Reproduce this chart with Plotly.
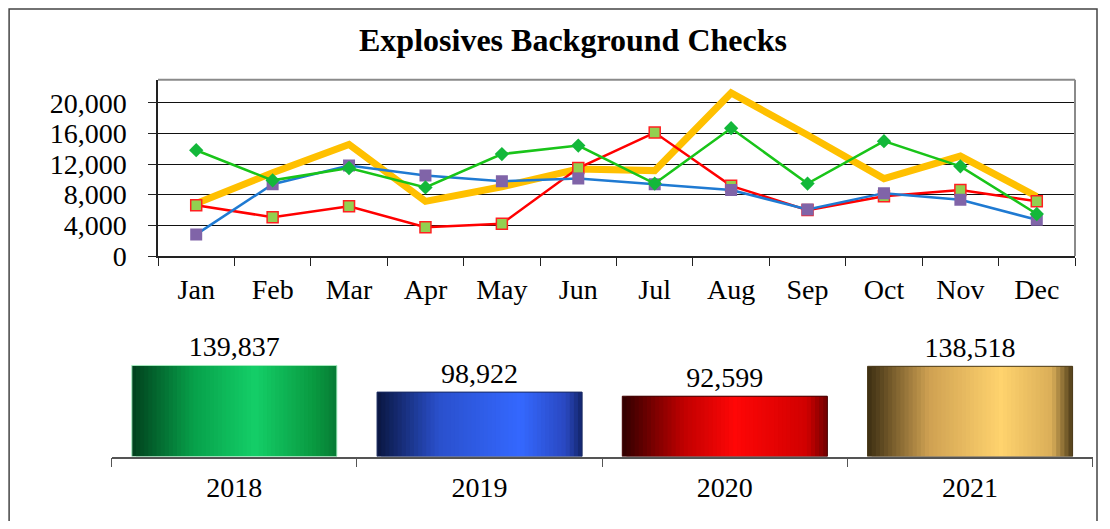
import plotly.graph_objects as go

months = ["Jan", "Feb", "Mar", "Apr", "May", "Jun", "Jul", "Aug", "Sep", "Oct", "Nov", "Dec"]
checks_2018 = [13800, 9870, 11480, 8950, 13300, 14400, 9450, 16670, 9450, 14980, 11700, 5480]
checks_2019 = [2820, 9370, 11800, 10500, 9750, 10100, 9370, 8600, 6080, 8200, 7340, 4720]
checks_2020 = [6620, 5060, 6500, 3760, 4220, 11480, 16100, 9150, 5990, 7800, 8600, 7130]
checks_2021 = [6840, 10850, 14560, 7130, 9030, 11350, 11140, 21270, 15780, 10090, 13040, 7760]

years = ["2018", "2019", "2020", "2021"]
year_totals = [139837, 98922, 92599, 138518]

FONT = "Liberation Serif"
OFF = 8  # page body margin, the figure sits 8px in from the window corner
W, H = 1110 - OFF, 529 - 2 * OFF


def px(x):
    return (x - OFF) / W


def py(y):
    return 1 - (y - OFF) / H


fig = go.Figure()

# monthly lines (yellow at the back, green on top)
fig.add_trace(go.Scatter(x=months, y=checks_2021, mode="lines", name="2021",
                         line=dict(color="#ffc000", width=7)))
fig.add_trace(go.Scatter(x=months, y=checks_2020, mode="lines+markers", name="2020",
                         line=dict(color="#ff0000", width=2.5),
                         marker=dict(symbol="square", size=11, color="#92d050",
                                     line=dict(color="#ff2020", width=1.5))))
fig.add_trace(go.Scatter(x=months, y=checks_2019, mode="lines+markers", name="2019",
                         line=dict(color="#1f7ad2", width=2.5),
                         marker=dict(symbol="square", size=12, color="#8064a8")))
fig.add_trace(go.Scatter(x=months, y=checks_2018, mode="lines+markers", name="2018",
                         line=dict(color="#19c419", width=2.5),
                         marker=dict(symbol="diamond", size=11, color="#13b83a")))


# yearly totals: bars built from thin strips to fake the horizontal shading
def hex_rgb(h):
    h = h.lstrip("#")
    return [int(h[i:i + 2], 16) for i in (0, 2, 4)]


def shade(stops, t):
    for (t0, c0), (t1, c1) in zip(stops, stops[1:]):
        if t0 <= t <= t1:
            f = (t - t0) / (t1 - t0) if t1 > t0 else 0
            a, b = hex_rgb(c0), hex_rgb(c1)
            return "rgb(%d,%d,%d)" % tuple(round(a[i] + (b[i] - a[i]) * f) for i in range(3))
    return stops[-1][1]


bar_shades = [
    [(0, "#01401c"), (0.3, "#07a04a"), (0.6, "#14cf68"), (0.9, "#09973f"), (1, "#067a34")],
    [(0, "#0a1640"), (0.3, "#2a50cc"), (0.7, "#3468ff"), (0.92, "#2a48c0"), (1, "#12246a")],
    [(0, "#300000"), (0.3, "#c00000"), (0.55, "#ff0606"), (0.9, "#d00000"), (1, "#700000")],
    [(0, "#3c2e12"), (0.3, "#cfa152"), (0.65, "#ffd36e"), (0.9, "#d9ae58"), (1, "#4c3a18")],
]

bar_w = 0.836
n_strips = 50
strip_w = bar_w / n_strips
for k in range(n_strips):
    t = (k + 0.5) / n_strips
    last = k == n_strips - 1
    fig.add_trace(go.Bar(x=years, y=year_totals, xaxis="x2", yaxis="y2",
                         width=strip_w * (1 if last else 2), offset=-bar_w / 2 + k * strip_w,
                         marker=dict(color=[shade(s, t) for s in bar_shades], line_width=0),
                         hoverinfo="skip", showlegend=False))

fig.add_trace(go.Bar(x=years, y=year_totals, xaxis="x2", yaxis="y2", width=bar_w,
                     marker=dict(color="rgba(0,0,0,0)",
                                 line=dict(color=["#a8ecc0", "#1a2a60", "#400000", "#4a3a1a"], width=1)),
                     text=[f"{v:,}" for v in year_totals], textposition="outside",
                     textfont=dict(family=FONT, size=28, color="black"),
                     cliponaxis=False, showlegend=False))

tick_font = dict(family=FONT, size=28, color="black")

fig.update_layout(
    width=W, height=H,
    margin=dict(l=0, r=0, t=0, b=0),
    paper_bgcolor="white", plot_bgcolor="white",
    showlegend=False, barmode="overlay",
    title=dict(text="<b>Explosives Background Checks</b>", x=px(573), xanchor="center",
               y=py(40), yanchor="middle",
               font=dict(family=FONT, size=32, color="black")),
    xaxis=dict(domain=[px(158), px(1075)], range=[-0.5, 11.5], anchor="y",
               showline=True, linecolor="#222", linewidth=1.5,
               ticks="outside", tickson="boundaries", ticklen=8, tickcolor="#222",
               ticklabelstandoff=8, tickfont=tick_font, showgrid=False),
    yaxis=dict(domain=[py(264), py(82)], range=[0, 23000], anchor="x",
               tickvals=[0, 4000, 8000, 12000, 16000, 20000], tickformat=",",
               showline=True, linecolor="#222", linewidth=1.5,
               ticks="outside", ticklen=8, tickcolor="#222", ticklabelstandoff=16,
               showgrid=True, gridcolor="#111", gridwidth=1,
               tickfont=tick_font, zeroline=False),
    xaxis2=dict(domain=[px(111.7), px(1092.7)], anchor="y2",
                showline=True, linecolor="#555", linewidth=1.5,
                ticks="outside", tickson="boundaries", ticklen=9, tickcolor="#555",
                ticklabelstandoff=5, tickfont=tick_font, showgrid=False),
    yaxis2=dict(domain=[py(471), py(363.4)], range=[0, 160000], anchor="x2",
                visible=False),
    shapes=[
        # grey top and right edges of the line plot
        dict(type="line", xref="paper", yref="paper", x0=px(158), x1=px(1075),
             y0=py(82), y1=py(82), line=dict(color="#8a8a8a", width=2)),
        dict(type="line", xref="paper", yref="paper", x0=px(1075), x1=px(1075),
             y0=py(82), y1=py(264), line=dict(color="#8a8a8a", width=2)),
        # outer frame of the chart
        dict(type="rect", xref="paper", yref="paper", x0=0.001, x1=px(1097),
             y0=-0.05, y1=0.998, line=dict(color="#444", width=1.5)),
    ],
)

fig.write_html("out.html")
